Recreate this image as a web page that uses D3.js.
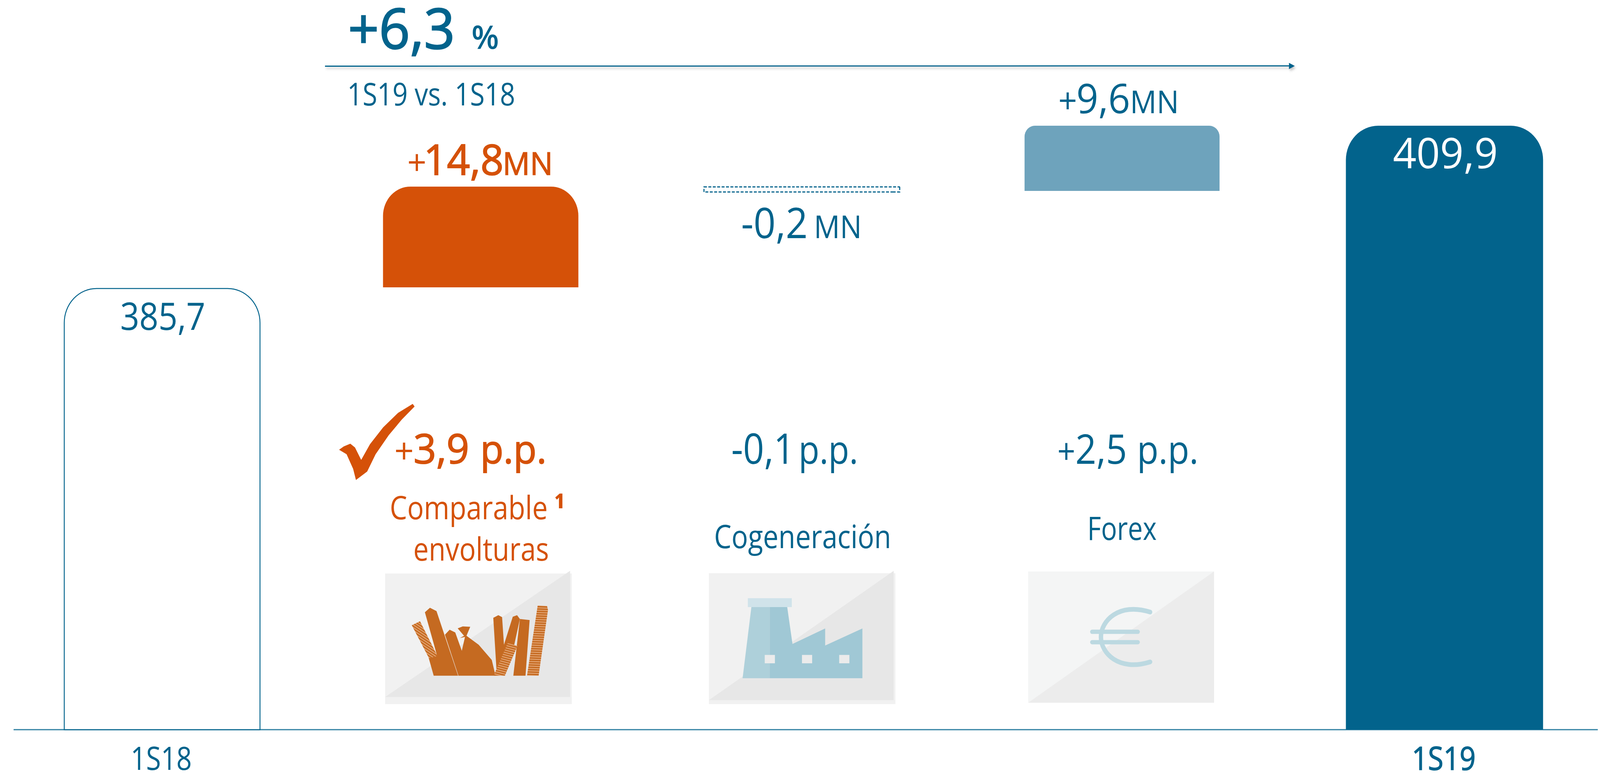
<!DOCTYPE html>
<html lang="es">
<head>
<meta charset="utf-8">
<title>Ventas 1S19 vs. 1S18</title>
<script src="https://cdn.jsdelivr.net/npm/d3@7"></script>
<style>html,body{margin:0;padding:0;background:#fff;overflow:hidden}svg{display:block;width:100vw;height:100vh}</style>
</head>
<body>
<svg id="chart" viewBox="0 0 4357 1980" preserveAspectRatio="none"></svg>
<script>
// ---------- data ----------
const categories = ["1S18", "Comparable envolturas", "Cogeneración", "Forex", "1S19"];
const values     = [385.7, 14.8, -0.2, 9.6, 409.9];
const barLow     = [320.1, 385.87, 400.05, 400.2, 320.1];
const barHigh    = [385.7, 400.85, 400.8, 409.9, 409.9];
const ppChange   = ["+3,9", "-0,1", "+2,5"];
const headline   = "+6,3";
const comparison = "1S19 vs. 1S18";

// ---------- style ----------
const BLUE = "#02638c", ORANGE = "#d55108", MID = "#6ea3bc", FONT = "Open Sans";
const svg = d3.select("#chart");
const y = d3.scaleLinear().domain([320.1, 409.9]).range([1869, 322]);
const xLeft  = d3.scaleOrdinal().domain(categories).range([175, 1043, 1917, 2790, 3665]);
const xRight = d3.scaleOrdinal().domain(categories).range([708, 1575, 2450, 3321, 4202]);
const radius = d3.scaleOrdinal().domain(categories).range([88, 75, 0, 28, 88]);
const num = v => d3.format(".1f")(Math.abs(v)).replace(".", ",");

const rows = categories.map((c, i) => ({c, i, low: barLow[i], high: barHigh[i], v: values[i]}));

const defs = svg.append("defs");
const sh = defs.append("filter").attr("id", "shadow").attr("x", "-5%").attr("y", "-500%").attr("width", "110%").attr("height", "1200%");
sh.append("feDropShadow").attr("dx", 3).attr("dy", 5).attr("stdDeviation", 3).attr("flood-color", "#777").attr("flood-opacity", 0.45);

function stripes(id, angle) {
  const p = defs.append("pattern").attr("id", id).attr("patternUnits", "userSpaceOnUse")
    .attr("width", 20).attr("height", 6).attr("patternTransform", `rotate(${angle})`);
  p.append("rect").attr("width", 20).attr("height", 6).attr("fill", "#e6ab7c");
  p.append("rect").attr("width", 20).attr("height", 3.8).attr("fill", "#c56a21");
}
stripes("st1", 32); stripes("st2", 14); stripes("st3", 2);

// ---------- icon backgrounds and glyphs ----------
const line = d3.line().x(d => d[0]).y(d => d[1]);
function poly(g, pts, sx, sy, fill) {
  g.append("path").attr("d", line(pts.map(p => [sx(p[0]), sy(p[1])])) + "Z").attr("fill", fill);
}
const ix = d3.scaleLinear([0, 1568], [880, 1680]), iy = d3.scaleLinear([0, 1568], [1000, 1900]);
const fx = d3.scaleLinear([0, 1568], [1850, 3350]), fy = d3.scaleLinear([0, 1568], [1050, 1850]);

const icons = svg.append("g").attr("class", "icons");
// envolturas
poly(icons, [[331,817],[1327,817],[1327,1400],[331,1400]], ix, iy, "#f1f1f1");
poly(icons, [[331,1368],[1318,805],[1318,1368]], ix, iy, "#e7e7e7");
const C = "#c56a21";
poly(icons, [[543,990],[570,970],[605,985],[720,1273],[590,1273],[558,1178],[608,1185],[590,1130]], ix, iy, C);
poly(icons, [[473,1048],[517,1030],[610,1185],[565,1195]], ix, iy, "url(#st1)");
poly(icons, [[650,1090],[675,1068],[705,1080],[740,1162],[757,1100],[730,1105],[752,1095],[718,1062],[745,1053],[785,1055],[765,1095],[830,1135],[900,1203],[920,1273],[722,1273]], ix, iy, C);
poly(icons, [[908,1015],[935,1003],[955,1012],[965,1135],[1012,1010],[1035,1003],[1050,1020],[1020,1135],[965,1230],[925,1245]], ix, iy, C);
poly(icons, [[1050,1020],[1102,1025],[1080,1273],[1015,1273]], ix, iy, C);
poly(icons, [[985,1127],[1037,1140],[970,1273],[910,1273]], ix, iy, "url(#st2)");
poly(icons, [[1145,960],[1195,962],[1200,980],[1150,1273],[1088,1273]], ix, iy, "url(#st3)");
// cogeneración
poly(icons, [[84,820],[615,820],[615,1477],[84,1477]], fx, fy, "#f1f1f1");
poly(icons, [[84,1457],[610,808],[610,1457]], fx, fy, "#e7e7e7");
poly(icons, [[195,945],[320,945],[320,990],[195,990]], fx, fy, "#d0e3ea");
poly(icons, [[205,990],[257,990],[257,1347],[180,1347]], fx, fy, "#aed0da");
poly(icons, [[257,990],[307,990],[322,1175],[415,1097],[415,1183],[521,1097],[521,1347],[257,1347]], fx, fy, "#a0c8d5");
[243, 349, 455].forEach(w => poly(icons, [[w,1230],[w+29,1230],[w+29,1272],[w,1272]], fx, fy, "#ebebeb"));
// forex
poly(icons, [[993,811],[1522,811],[1522,1470],[993,1470]], fx, fy, "#f4f5f5");
poly(icons, [[993,1470],[1522,811],[1522,1470]], fx, fy, "#ececec");
icons.append("path").attr("fill", "none").attr("stroke", "#bcd9e1").attr("stroke-width", 12).attr("stroke-linecap", "round")
  .attr("d", `M${fx(1340)},${fy(1015)}C${fx(1250)},${fy(965)} ${fx(1200)},${fy(1060)} ${fx(1200)},${fy(1140)}C${fx(1200)},${fy(1220)} ${fx(1250)},${fy(1315)} ${fx(1340)},${fy(1265)}`);
[1114, 1166].forEach(b => icons.append("line").attr("x1", fx(1175)).attr("x2", fx(1305)).attr("y1", fy(b)).attr("y2", fy(b))
  .attr("stroke", "#bcd9e1").attr("stroke-width", 11).attr("stroke-linecap", "round"));

// ---------- baseline ----------
svg.append("line").attr("x1", 37).attr("x2", 4351).attr("y1", y(320.1)).attr("y2", y(320.1))
  .attr("stroke", "#2f80a2").attr("stroke-width", 3);

// ---------- bars ----------
function topRounded(d) {
  const l = xLeft(d.c), r = xRight(d.c), t = y(d.high), b = y(d.low), k = radius(d.c);
  return `M${l},${b}V${t + k}A${k},${k} 0 0 1 ${l + k},${t}H${r - k}A${k},${k} 0 0 1 ${r},${t + k}V${b}Z`;
}
const fills = [["#fff", BLUE, 2.5], [ORANGE, "none", 0], ["#fff", BLUE, 3], [MID, "none", 0], [BLUE, "none", 0]];
svg.append("g").attr("class", "bars").selectAll("path").data(rows).join("path")
  .attr("d", topRounded)
  .attr("fill", d => fills[d.i][0])
  .attr("stroke", d => fills[d.i][1])
  .attr("stroke-width", d => fills[d.i][2])
  .attr("stroke-dasharray", d => d.v < 0 ? "8 4" : null);

// ---------- arrow ----------
const arrow = svg.append("g").attr("class", "arrow").attr("filter", "url(#shadow)");
arrow.append("path").attr("d", "M885,169.5L3512,168.7").attr("stroke", BLUE).attr("stroke-width", 3).attr("fill", "none");
arrow.append("path").attr("d", "M3510,161L3526,169L3510,177Z").attr("fill", BLUE);

// ---------- check mark ----------
poly(svg, [[85,265],[110,250],[145,238],[170,255],[203,310],[250,240],[320,165],[400,100],[478,60],[488,72],[420,130],[350,200],[280,285],[235,362],[175,400],[160,350],[125,285]], ix, iy, ORANGE);

// ---------- text ----------
const ctx = document.createElement("canvas").getContext("2d");
function inkAt(t, size, weight) {
  ctx.font = `${weight} ${size}px "${FONT}"`;
  return ctx.measureText(t.trim());
}
function ink(t, size, weight) {
  const m = inkAt(t, size, Math.min(weight === 500 ? 400 : weight, 700));
  return [-m.actualBoundingBoxLeft, m.actualBoundingBoxRight];
}
// pieces: [text, inkLeft, inkRight, fontSize, weight, raise]; weight 500 = regular thickened by a thin outline
function label(base, fill, pieces) {
  const meas = pieces.map(p => ink(p[0], p[3], p[4]));
  const sx = d3.sum(pieces, p => p[2] - p[1]) / d3.sum(meas, m => m[1] - m[0]);
  const t = svg.append("text").attr("transform", `translate(0,${base}) scale(${sx},1)`)
    .attr("fill", fill).attr("font-family", `"${FONT}", sans-serif`).attr("xml:space", "preserve");
  pieces.forEach((p, i) => t.append("tspan")
    .attr("x", (p[1] - meas[i][0] * sx) / sx).attr("y", p[5] ? -p[5] : 0)
    .attr("font-size", p[3]).attr("font-weight", p[4] === 500 ? 400 : p[4])
    .attr("stroke", p[4] === 500 ? fill : null)
    .attr("stroke-width", p[4] === 500 ? p[3] * 0.02 : null)
    .text(p[0]));
}

// superscript sized and placed from its own measured ink
const sup = "¹";
const supM = inkAt(sup, 100, 700);
const supSize = 38 / ((supM.actualBoundingBoxAscent + supM.actualBoundingBoxDescent) / 100);
const supRaise = 1330 - 1302 + supM.actualBoundingBoxDescent * supSize / 100;

label(125, BLUE, [[headline + " ", 955, 1233, 143, 500], ["%", 1287, 1354, 84, 600]]);
label(270, BLUE, [[comparison, 952, 1400, 81, 400]]);
label(448, ORANGE, [["+", 1113, 1159, 90, 400], [num(values[1]), 1163, 1363, 108, 500], ["MN", 1376, 1500, 81, 500]]);
label(610, BLUE, [["-" + num(values[2]) + " ", 2022, 2191, 108, 400], ["MN", 2223, 2343, 81, 400]]);
label(290, BLUE, [["+", 2886, 2928, 90, 400], [num(values[3]), 2936, 3073, 105, 400], ["MN", 3084, 3204, 81, 400]]);
label(845, BLUE, [[num(values[0]), 331, 555, 97, 400]]);
label(431, "#fff", [[num(values[4]), 3795, 4073, 108, 400]]);
label(1187, ORANGE, [["+", 1078, 1122, 90, 400], [ppChange[0].slice(1) + " ", 1130, 1275, 105, 500], ["p.p.", 1316, 1479, 100, 500]]);
label(1188, BLUE, [[ppChange[1] + " ", 1995, 2139, 108, 400], ["p.p.", 2182, 2333, 100, 400]]);
label(1188, BLUE, [["+", 2883, 2928, 90, 400], [ppChange[2].slice(1) + " ", 2933, 3062, 105, 400], ["p.p.", 3104, 3254, 100, 400]]);
label(1330, ORANGE, [["Comparable ", 1066, 1487, 82, 400], [sup, 1511, 1533, supSize, 700, supRaise]]);
label(1436, ORANGE, [["envolturas", 1129, 1492, 82, 400]]);
label(1404, BLUE, [[categories[2], 1949, 2421, 82, 400]]);
label(1383, BLUE, [[categories[3], 2968, 3149, 82, 400]]);
label(1972, BLUE, [[categories[0], 362, 519, 82, 400]]);
label(1972, BLUE, [[categories[4], 3851, 4015, 82, 500]]);
</script>
</body>
</html>
